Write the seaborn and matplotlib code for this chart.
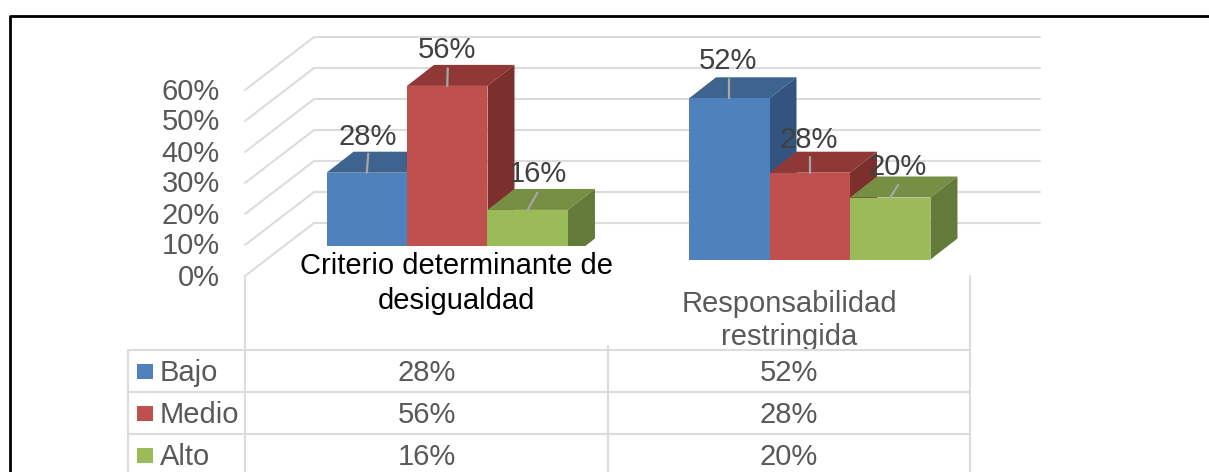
import matplotlib
matplotlib.use('Agg')
import matplotlib.pyplot as plt
from matplotlib.patches import Polygon, Rectangle
import pandas as pd
import seaborn as sns

# Data
categories = ['Criterio determinante de desigualdad', 'Responsabilidad restringida']
levels = ['Bajo', 'Medio', 'Alto']
bajo = [28, 52]
medio = [56, 28]
alto = [16, 20]
y_ticks = [0, 10, 20, 30, 40, 50, 60]

# Styles
W, H = 1209, 472
FRONT = ['#4F81BD', '#C0504D', '#9BBB59']
TOP = ['#3E638F', '#8F3836', '#768F45']
SIDE = ['#32547E', '#7B302E', '#647A39']
GRID = '#DCDCDC'
TEXT = '#595959'
FS = 21
TEXT_DY = 2  # va='center' sits a little high for this font

sns.set_theme(style='white')
plt.rcParams['font.family'] = ['Liberation Sans', 'DejaVu Sans']

df = pd.DataFrame({
    'categoria': categories * 3,
    'nivel': [l for l in levels for _ in categories],
    'valor': bajo + medio + alto,
})

fig = plt.figure(figsize=(W / 100, H / 100), dpi=100, facecolor='white')


def pixel_axes(zorder):
    a = fig.add_axes([0, 0, 1, 1], zorder=zorder)
    a.set_xlim(0, W)
    a.set_ylim(H, 0)
    a.axis('off')
    a.patch.set_alpha(0)
    return a


back = pixel_axes(1)
front = pixel_axes(3)


def label(x, y, s, ha='center', color=TEXT, zorder=6):
    front.text(x, y + TEXT_DY, s, ha=ha, va='center', fontsize=FS, color=color, zorder=zorder)


# Front plane of the bars
ax = fig.add_axes([266 / W, (H - 259.5) / H, 725 / W, 186 / H], zorder=2)
sns.barplot(data=df, x='categoria', y='valor', hue='nivel', hue_order=levels,
            order=categories, palette=FRONT, width=0.666, gap=0, saturation=1,
            legend=False, linewidth=0, edgecolor='none', ax=ax)
ax.set_xlim(-0.5, 1.5)
ax.set_ylim(0, 60)
ax.axis('off')
ax.patch.set_alpha(0)


def to_px(x, y):
    px, py = ax.transData.transform((x, y))
    return px, H - py


# Walls
for v in y_ticks:
    y0 = to_px(0, v)[1]
    back.plot([245, 314], [y0 + 16.5, y0 - 36.5], color=GRID, lw=1.5)
    back.plot([314, 1040], [y0 - 36.5, y0 - 36.5], color=GRID, lw=1.5)
    label(220, y0 + 16, f'{v}%', ha='right')

# Depth faces, left to right so later bars overlap earlier ones
DX, DY = 27, -21
bars = []
for i, container in enumerate(ax.containers):
    for patch in container:
        bars.append((patch.get_x(), patch.get_width(), patch.get_height(), i))
bars.sort()

label_off = [(0.7, -38), (0, -38), (10, -38), (-1, -39.4), (-1, -35), (7, -32.7)]
leader_off = [(1.5, -19), (0.5, -17.5), (9.7, -17.3), (0, -19.7), (0, -15.3), (8, -12.7)]

for n, (x, w, h, i) in enumerate(bars):
    lx, top = to_px(x, h)
    rx, base = to_px(x + w, 0)
    back.add_patch(Polygon([(lx, top), (rx, top), (rx + DX, top + DY), (lx + DX, top + DY)],
                           closed=True, facecolor=TOP[i], edgecolor='none', zorder=5 + n))
    back.add_patch(Polygon([(rx, top), (rx + DX, top + DY), (rx + DX, base + DY), (rx, base)],
                           closed=True, facecolor=SIDE[i], edgecolor='none', zorder=5 + n))
    cx = (lx + rx) / 2
    front.plot([cx + leader_off[n][0], cx], [top + leader_off[n][1], top], color='#A6A6A6', lw=1.6, zorder=6)
    label(cx + label_off[n][0], top + label_off[n][1], f'{h:.0f}%', color='#404040', zorder=7)

# White box behind the first category label, as pasted over the chart
front.add_patch(Rectangle((296, 246), 324, 100, facecolor='white', edgecolor='none', zorder=2))
label(456, 264, 'Criterio determinante de', color='black', zorder=3)
label(456, 299, 'desigualdad', color='black', zorder=3)

label(789, 302, 'Responsabilidad', zorder=3)
label(789, 335, 'restringida', zorder=3)

# Data table
front.add_patch(Rectangle((128, 350), 842, H - 350, facecolor='white', edgecolor='none', zorder=4))
for y in [350, 392, 434]:
    front.plot([128, 970], [y, y], color=GRID, lw=1.5, zorder=5)
front.plot([128, 128], [350, H], color=GRID, lw=1.5, zorder=5)
front.plot([245, 245], [276, H], color=GRID, lw=1.5, zorder=5)
front.plot([608, 608], [346, H], color=GRID, lw=1.5, zorder=5)
front.plot([970, 970], [276, H], color=GRID, lw=1.5, zorder=5)

for row, (name, vals, col) in enumerate(zip(levels, [bajo, medio, alto], FRONT)):
    yc = 371 + 42 * row
    front.add_patch(Rectangle((137, yc - 7.5), 16, 15, facecolor=col, edgecolor='none', zorder=6))
    label(160, yc, name, ha='left')
    label(427, yc, f'{vals[0]}%')
    label(789, yc, f'{vals[1]}%')

# Black frame, top and left only
front.plot([9.5, W], [15.5, 15.5], color='black', lw=2, zorder=8, solid_capstyle='butt')
front.plot([9.5, 9.5], [15, H], color='black', lw=2, zorder=8, solid_capstyle='butt')

fig.savefig('out.png', dpi=100)
